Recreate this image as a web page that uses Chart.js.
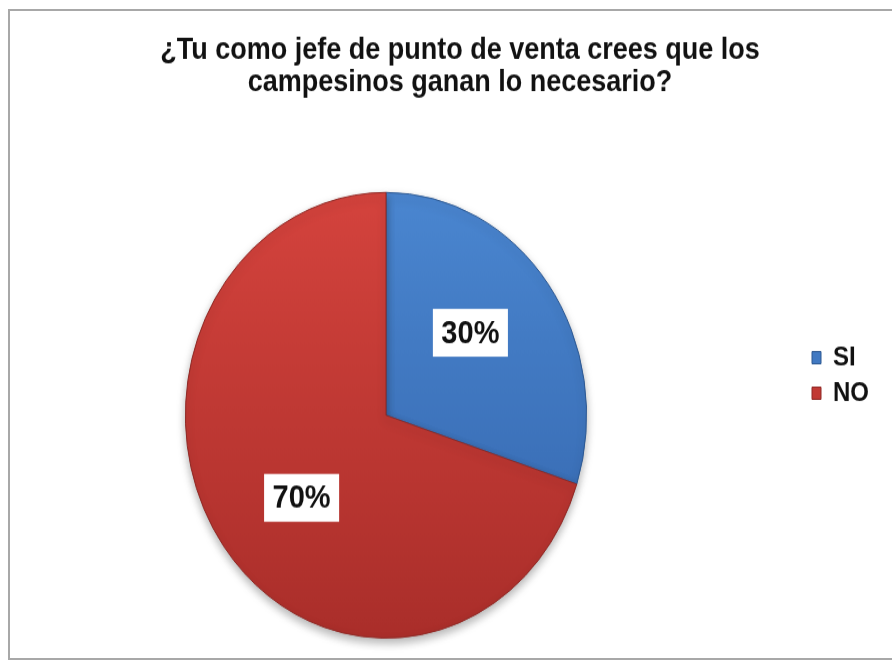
<!DOCTYPE html>
<html>
<head>
<meta charset="utf-8">
<script src="https://cdn.jsdelivr.net/npm/chart.js@4"></script>
<style>
  html, body { margin: 0; padding: 0; background: #fff; overflow: hidden; }
  #wrap { position: relative; width: 892px; height: 662px; overflow: hidden; }
  /* grey frame of the original chart (right edge is cut off) */
  #frame { position: absolute; left: 8px; top: 9px; width: 900px; height: 651px;
           border: 2px solid #a8a8a8; border-right: none; box-sizing: border-box; }
  /* the original picture is stretched vertically, so the pie is an ellipse;
     the canvas is also wider than the page because the original is cropped */
  #stretch { position: absolute; left: -32px; top: 0; width: 984px; height: 596px;
             transform: scaleY(1.1107); transform-origin: 0 0; }
</style>
</head>
<body>
<div id="wrap">
  <div id="frame"></div>
  <div id="stretch"><canvas id="pieChart"></canvas></div>
</div>
<script>
  // Data
  const categories = ["SI", "NO"];
  const responses = [30, 70];
  const chartTitle = ["¿Tu como jefe de punto de venta crees que los", "campesinos ganan lo necesario?"];

  // Slice colours (top / bottom of the shading, edge)
  const topColors = ["#4a86d0", "#d4433d"];
  const bottomColors = ["#3364ab", "#aa2e2a"];
  const edgeColors = ["#2c5892", "#8f2824"];

  const fontFamily = '"Liberation Sans", Arial, sans-serif';

  // Vertical gradient per slice
  function sliceFill(ctx) {
    const i = ctx.dataIndex;
    const area = ctx.chart.chartArea;
    if (!area) return topColors[i];
    const g = ctx.chart.ctx.createLinearGradient(0, area.top, 0, area.bottom);
    g.addColorStop(0, topColors[i]);
    g.addColorStop(1, bottomColors[i]);
    return g;
  }

  // Legend width / position like the original (right side, upper middle)
  const legendPlace = {
    id: "legendPlace",
    beforeUpdate(chart) {
      const legend = chart.legend;
      if (legend && !legend._patched) {
        const fit = legend.fit;
        legend.fit = function () { fit.call(this); this.width = 148; };
        legend._patched = true;
      }
    },
    afterLayout(chart) {
      chart.legend.top = 302;
    }
  };

  // Shadow under the pie + white percentage boxes
  const pieLabels = {
    id: "pieLabels",
    beforeDatasetsDraw(chart) {
      const ctx = chart.ctx;
      ctx.save();
      ctx.shadowColor = "rgba(0, 0, 0, 0.3)";
      ctx.shadowBlur = 9;
      ctx.shadowOffsetY = 4;
    },
    afterDatasetsDraw(chart) {
      const ctx = chart.ctx;
      ctx.restore();
      const data = chart.data.datasets[0].data;
      const total = data.reduce((a, b) => a + b, 0);
      chart.getDatasetMeta(0).data.forEach((arc, i) => {
        const p = arc.getProps(["x", "y", "startAngle", "endAngle", "outerRadius"], true);
        const mid = (p.startAngle + p.endAngle) / 2;
        const x = p.x + Math.cos(mid) * p.outerRadius * 0.52;
        const y = p.y + Math.sin(mid) * p.outerRadius * 0.63;
        const text = Math.round(data[i] / total * 100) + "%";
        ctx.save();
        ctx.font = "bold 29px " + fontFamily;
        const w = ctx.measureText(text).width + 17;
        const h = 43;
        ctx.fillStyle = "#ffffff";
        ctx.fillRect(x - w / 2, y - h / 2, w, h);
        ctx.fillStyle = "#111111";
        ctx.textAlign = "center";
        ctx.textBaseline = "middle";
        ctx.fillText(text, x, y + 1);
        ctx.restore();
      });
    }
  };

  const ctxPie = document.getElementById("pieChart").getContext("2d");
  const chartPie = new Chart(ctxPie, {
    type: "pie",
    data: {
      labels: categories,
      datasets: [{
        data: responses,
        backgroundColor: sliceFill,
        borderColor: edgeColors,
        borderWidth: 1
      }]
    },
    options: {
      responsive: true,
      maintainAspectRatio: false,
      animation: false,
      layout: {
        padding: { left: 0, right: 0, top: 0, bottom: 21 }
      },
      plugins: {
        title: {
          display: true,
          text: chartTitle,
          color: "#111111",
          font: { family: fontFamily, size: 27, weight: "bold", lineHeight: 1.07 },
          padding: { top: 31, bottom: 84 }
        },
        legend: {
          position: "right",
          align: "start",
          labels: {
            color: "#111111",
            font: { family: fontFamily, size: 24, weight: "bold" },
            boxWidth: 9,
            boxHeight: 11,
            padding: 8
          }
        },
        tooltip: { enabled: false }
      }
    },
    plugins: [legendPlace, pieLabels]
  });
</script>
</body>
</html>
